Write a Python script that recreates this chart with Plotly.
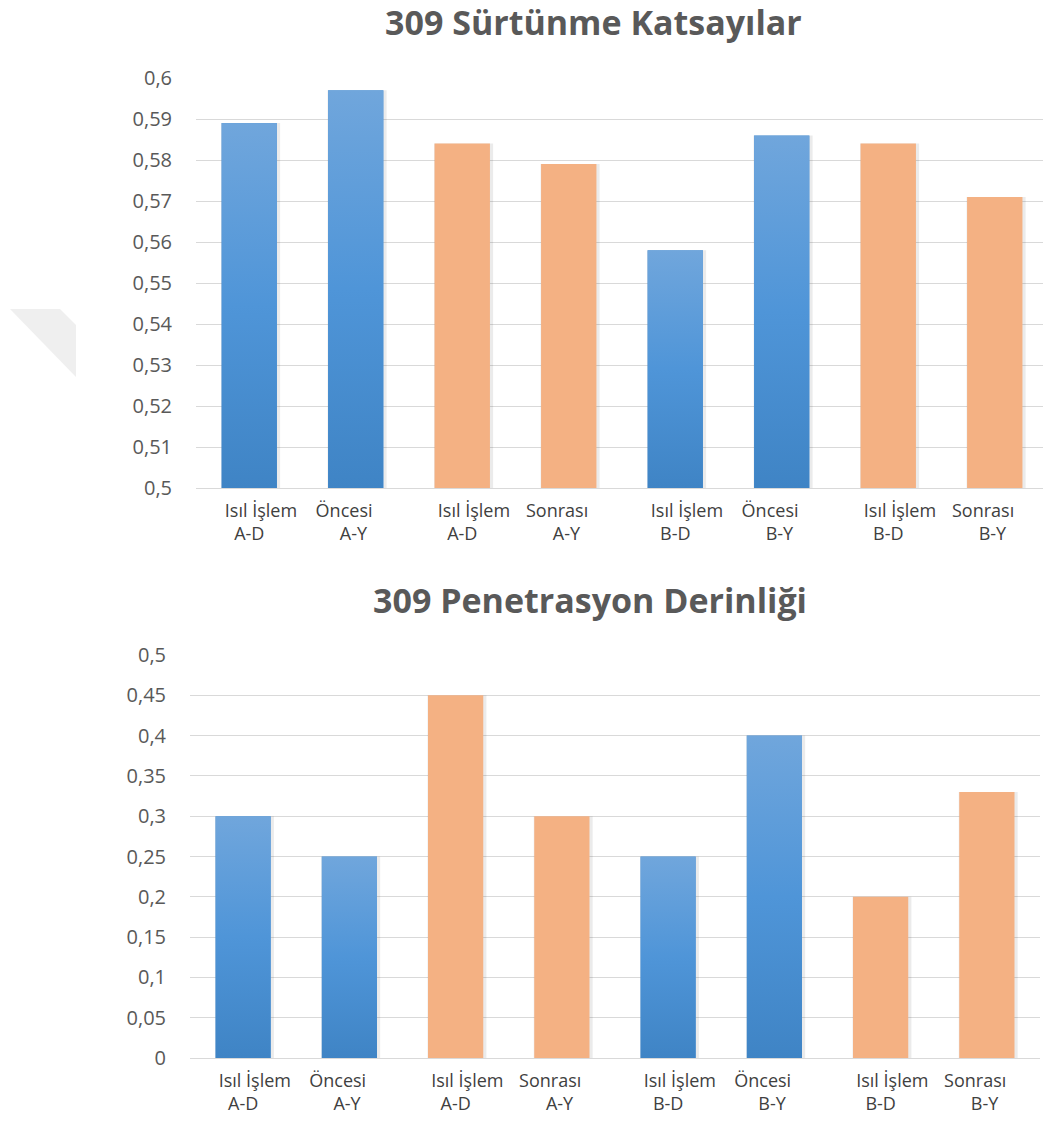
import base64
import plotly.graph_objects as go

# ---- data -------------------------------------------------------------
NB = "\u00a0" * 5
tick_labels = [
    f"{NB}Isıl İşlem<br>A-D",
    f"Öncesi{NB}<br>A-Y\u00a0",
    f"{NB}Isıl İşlem<br>A-D",
    f"Sonrası{NB}<br>A-Y\u00a0",
    f"{NB}Isıl İşlem<br>B-D",
    f"Öncesi{NB}<br>B-Y\u00a0",
    f"{NB}Isıl İşlem<br>B-D",
    f"Sonrası{NB}<br>B-Y\u00a0",
]
phase = ["Öncesi", "Öncesi", "Sonrası", "Sonrası", "Öncesi", "Öncesi", "Sonrası", "Sonrası"]

friction = [0.589, 0.597, 0.584, 0.579, 0.558, 0.586, 0.584, 0.571]
penetration = [0.30, 0.25, 0.45, 0.30, 0.25, 0.40, 0.20, 0.33]

title_friction = "309 Sürtünme Katsayılar"
title_penetration = "309 Penetrasyon Derinliği"

# ---- styling ----------------------------------------------------------
BLUE = "#5596d6"
ORANGE = "#f4b183"
TEXT = "#595959"
GRID = "#d9d9d9"
FONT = "Open Sans"
BAR_W = 0.52

colors = [BLUE if p == "Öncesi" else ORANGE for p in phase]
xs = list(range(len(friction)))

# vertical blue gradient used on the "Öncesi" bars
grad_svg = (
    '<svg xmlns="http://www.w3.org/2000/svg" width="10" height="100" '
    'viewBox="0 0 10 100" preserveAspectRatio="none">'
    '<defs><linearGradient id="g" x1="0" y1="0" x2="0" y2="1">'
    '<stop offset="0" stop-color="#70a6dc"/>'
    '<stop offset="0.5" stop-color="#4f95d8"/>'
    '<stop offset="1" stop-color="#3f84c5"/>'
    '</linearGradient></defs>'
    '<rect width="10" height="100" fill="url(#g)"/></svg>'
)
grad_src = "data:image/svg+xml;base64," + base64.b64encode(grad_svg.encode()).decode()

fig = go.Figure()


def add_bars(values, base, xa, ya):
    # soft drop shadow behind each bar
    fig.add_trace(go.Bar(
        x=xs, y=[v - base for v in values], base=base,
        width=BAR_W + 0.035, offset=-BAR_W / 2 - 0.005,
        marker=dict(color="rgba(0,0,0,0.08)", line=dict(width=0)),
        xaxis=xa, yaxis=ya, hoverinfo="skip", showlegend=False,
    ))
    fig.add_trace(go.Bar(
        x=xs, y=[v - base for v in values], base=base,
        width=BAR_W, offset=-BAR_W / 2,
        marker=dict(color=colors, line=dict(width=0)),
        xaxis=xa, yaxis=ya, showlegend=False,
    ))
    for x, v, c in zip(xs, values, colors):
        if c == BLUE:
            fig.add_layout_image(dict(
                source=grad_src, xref=xa, yref=ya,
                x=x - BAR_W / 2, y=v, sizex=BAR_W, sizey=v - base,
                xanchor="left", yanchor="top", sizing="stretch",
                layer="above",
            ))


add_bars(friction, 0.5, "x", "y")
add_bars(penetration, 0.0, "x2", "y2")

W, H = 1043, 1126

axis_x = dict(
    tickmode="array", tickvals=xs, ticktext=tick_labels,
    showgrid=False, zeroline=False, showline=True, linecolor=GRID, linewidth=1,
    ticks="", tickfont=dict(family=FONT, size=18, color="#404040"),
    ticklabelstandoff=6, automargin=False, fixedrange=True,
)
axis_y = dict(
    showgrid=True, gridcolor=GRID, gridwidth=1, zeroline=False, showline=False,
    ticks="", tickfont=dict(family=FONT, size=20, color=TEXT),
    ticklabelstandoff=23, automargin=False, fixedrange=True,
)

fig.update_layout(
    width=W, height=H,
    margin=dict(l=0, r=0, t=0, b=0, autoexpand=False),
    paper_bgcolor="white", plot_bgcolor="white",
    barmode="overlay", separators=", ",
    showlegend=False,
    xaxis=dict(axis_x, domain=[196 / W, 1.0], range=[-0.5, 7.453], anchor="y"),
    yaxis=dict(axis_y, domain=[1 - 488 / H, 1 - 78 / H], range=[0.5, 0.6],
               dtick=0.01, tick0=0.5, anchor="x"),
    xaxis2=dict(axis_x, domain=[190 / W, 1040 / W], range=[-0.5, 7.5], anchor="y2"),
    yaxis2=dict(axis_y, domain=[1 - 1058 / H, 1 - 655 / H], range=[0, 0.5],
                dtick=0.05, tick0=0, anchor="x2"),
    annotations=[
        dict(text=f"<b>{title_friction}</b>", xref="paper", yref="paper",
             x=593 / W, y=1 - 22 / H, xanchor="center", yanchor="middle",
             showarrow=False, font=dict(family=FONT, size=34, color=TEXT)),
        dict(text=f"<b>{title_penetration}</b>", xref="paper", yref="paper",
             x=590 / W, y=1 - 600 / H, xanchor="center", yanchor="middle",
             showarrow=False, font=dict(family=FONT, size=34, color=TEXT)),
    ],
    shapes=[
        # faint grey corner mark at the left edge
        dict(type="path", xref="paper", yref="paper", layer="below",
             path=(f"M {10 / W} {1 - 309 / H} L {60 / W} {1 - 309 / H} "
                   f"L {76 / W} {1 - 325 / H} L {76 / W} {1 - 377 / H} Z"),
             fillcolor="#efefef", line=dict(width=0)),
    ],
)

fig.write_html("out.html")
